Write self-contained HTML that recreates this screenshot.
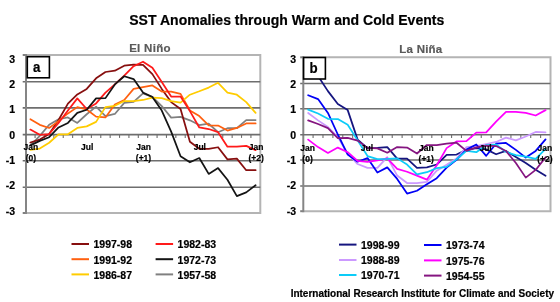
<!DOCTYPE html>
<html><head><meta charset="utf-8"><style>
html,body{margin:0;padding:0;background:#fff;width:560px;height:302px;overflow:hidden}
svg{display:block;will-change:transform}
text{font-family:"Liberation Sans",sans-serif;font-weight:bold;fill:#000;stroke:#000;stroke-width:0.2}
.title{font-size:14px;letter-spacing:0.025px}
.sub{font-size:11.5px;fill:#5a5a5a;stroke:#5a5a5a;letter-spacing:0.3px}
.yl{font-size:10.5px}
.xl{font-size:8.5px}
.lg{font-size:10.5px}
.foot{font-size:10px}
.box{font-size:14.5px}
</style></head><body>
<svg width="560" height="302" viewBox="0 0 560 302">
<rect width="560" height="302" fill="#fff"/>
<g>
<polyline points="25.7,55.0 260.3,55.0 260.3,213.0 25.7,213.0" fill="none" stroke="#b4b4b4" stroke-width="2"/>
<line x1="22.7" y1="81.80" x2="260.3" y2="81.80" stroke="#6e6e6e" stroke-width="1.6"/>
<line x1="22.7" y1="107.90" x2="260.3" y2="107.90" stroke="#6e6e6e" stroke-width="1.6"/>
<line x1="22.7" y1="160.75" x2="260.3" y2="160.75" stroke="#6e6e6e" stroke-width="1.6"/>
<line x1="22.7" y1="187.30" x2="260.3" y2="187.30" stroke="#6e6e6e" stroke-width="1.6"/>
<line x1="22.7" y1="55.0" x2="25.7" y2="55.0" stroke="#808080" stroke-width="2"/>
<line x1="22.7" y1="213.0" x2="25.7" y2="213.0" stroke="#808080" stroke-width="2"/>
<line x1="26.0" y1="54.0" x2="26.0" y2="214.0" stroke="#858585" stroke-width="2"/>
<line x1="22.7" y1="134.6" x2="260.3" y2="134.6" stroke="#6e6e6e" stroke-width="1.6"/>
<line x1="35.08" y1="134.6" x2="35.08" y2="137.9" stroke="#6e6e6e" stroke-width="1.1"/>
<line x1="44.47" y1="134.6" x2="44.47" y2="137.9" stroke="#6e6e6e" stroke-width="1.1"/>
<line x1="53.85" y1="134.6" x2="53.85" y2="137.9" stroke="#6e6e6e" stroke-width="1.1"/>
<line x1="63.24" y1="134.6" x2="63.24" y2="137.9" stroke="#6e6e6e" stroke-width="1.1"/>
<line x1="72.62" y1="134.6" x2="72.62" y2="137.9" stroke="#6e6e6e" stroke-width="1.1"/>
<line x1="82.00" y1="134.6" x2="82.00" y2="137.9" stroke="#6e6e6e" stroke-width="1.1"/>
<line x1="91.39" y1="134.6" x2="91.39" y2="137.9" stroke="#6e6e6e" stroke-width="1.1"/>
<line x1="100.77" y1="134.6" x2="100.77" y2="137.9" stroke="#6e6e6e" stroke-width="1.1"/>
<line x1="110.16" y1="134.6" x2="110.16" y2="137.9" stroke="#6e6e6e" stroke-width="1.1"/>
<line x1="119.54" y1="134.6" x2="119.54" y2="137.9" stroke="#6e6e6e" stroke-width="1.1"/>
<line x1="128.92" y1="134.6" x2="128.92" y2="137.9" stroke="#6e6e6e" stroke-width="1.1"/>
<line x1="138.31" y1="134.6" x2="138.31" y2="137.9" stroke="#6e6e6e" stroke-width="1.1"/>
<line x1="147.69" y1="134.6" x2="147.69" y2="137.9" stroke="#6e6e6e" stroke-width="1.1"/>
<line x1="157.08" y1="134.6" x2="157.08" y2="137.9" stroke="#6e6e6e" stroke-width="1.1"/>
<line x1="166.46" y1="134.6" x2="166.46" y2="137.9" stroke="#6e6e6e" stroke-width="1.1"/>
<line x1="175.84" y1="134.6" x2="175.84" y2="137.9" stroke="#6e6e6e" stroke-width="1.1"/>
<line x1="185.23" y1="134.6" x2="185.23" y2="137.9" stroke="#6e6e6e" stroke-width="1.1"/>
<line x1="194.61" y1="134.6" x2="194.61" y2="137.9" stroke="#6e6e6e" stroke-width="1.1"/>
<line x1="204.00" y1="134.6" x2="204.00" y2="137.9" stroke="#6e6e6e" stroke-width="1.1"/>
<line x1="213.38" y1="134.6" x2="213.38" y2="137.9" stroke="#6e6e6e" stroke-width="1.1"/>
<line x1="222.76" y1="134.6" x2="222.76" y2="137.9" stroke="#6e6e6e" stroke-width="1.1"/>
<line x1="232.15" y1="134.6" x2="232.15" y2="137.9" stroke="#6e6e6e" stroke-width="1.1"/>
<line x1="241.53" y1="134.6" x2="241.53" y2="137.9" stroke="#6e6e6e" stroke-width="1.1"/>
<line x1="250.92" y1="134.6" x2="250.92" y2="137.9" stroke="#6e6e6e" stroke-width="1.1"/>
<polyline points="30.39,145.39 39.78,135.88 49.16,124.80 58.54,119.25 67.93,117.40 77.31,122.95 86.70,114.24 96.08,106.58 105.46,116.08 114.85,113.97 124.23,102.88 133.62,101.83 143.00,93.38 152.38,96.81 161.77,106.05 171.15,117.67 180.54,116.88 189.92,120.31 199.30,125.06 208.69,123.74 218.07,132.19 227.46,128.23 236.84,128.23 246.22,120.04 255.61,120.04" fill="none" stroke="#808080" stroke-width="1.75" stroke-linejoin="round" stroke-linecap="round"/>
<polyline points="30.39,142.48 39.78,139.58 49.16,134.04 58.54,120.04 67.93,103.68 77.31,94.44 86.70,88.89 96.08,78.33 105.46,72.00 114.85,70.68 124.23,65.66 133.62,64.60 143.00,64.87 152.38,74.11 161.77,88.89 171.15,102.09 180.54,108.96 189.92,141.69 199.30,148.82 208.69,148.82 218.07,147.24 227.46,159.38 236.84,158.59 246.22,170.20 255.61,170.20" fill="none" stroke="#870F0F" stroke-width="1.75" stroke-linejoin="round" stroke-linecap="round"/>
<polyline points="30.39,119.25 39.78,124.80 49.16,127.96 58.54,121.10 67.93,113.44 77.31,107.11 86.70,109.48 96.08,116.61 105.46,117.40 114.85,104.47 124.23,99.98 133.62,88.89 143.00,87.04 152.38,85.46 161.77,91.53 171.15,91.53 180.54,93.91 189.92,110.54 199.30,116.08 208.69,125.32 218.07,125.59 227.46,130.60 236.84,127.96 246.22,123.48 255.61,123.48" fill="none" stroke="#FF6010" stroke-width="1.75" stroke-linejoin="round" stroke-linecap="round"/>
<polyline points="30.39,149.88 39.78,148.56 49.16,142.75 58.54,134.30 67.93,134.30 77.31,127.96 86.70,126.38 96.08,121.89 105.46,107.11 114.85,105.79 124.23,101.04 133.62,101.04 143.00,99.98 152.38,97.60 161.77,98.13 171.15,101.04 180.54,102.62 189.92,94.70 199.30,91.27 208.69,87.57 218.07,82.82 227.46,92.59 236.84,94.70 246.22,102.09 255.61,112.92" fill="none" stroke="#FFCC00" stroke-width="1.75" stroke-linejoin="round" stroke-linecap="round"/>
<polyline points="30.39,129.55 39.78,134.83 49.16,134.04 58.54,122.95 67.93,110.54 77.31,98.40 86.70,108.96 96.08,103.41 105.46,92.59 114.85,84.40 124.23,75.69 133.62,66.19 143.00,61.70 152.38,67.77 161.77,82.03 171.15,96.55 180.54,96.55 189.92,111.07 199.30,127.44 208.69,129.02 218.07,132.19 227.46,146.71 236.84,146.71 246.22,145.92 255.61,150.14" fill="none" stroke="#FF1A1A" stroke-width="1.75" stroke-linejoin="round" stroke-linecap="round"/>
<polyline points="30.39,145.39 39.78,140.90 49.16,137.20 58.54,127.44 67.93,122.95 77.31,112.92 86.70,109.75 96.08,98.40 105.46,98.13 114.85,84.40 124.23,76.22 133.62,79.12 143.00,92.59 152.38,97.08 161.77,110.54 171.15,131.66 180.54,156.21 189.92,162.28 199.30,158.06 208.69,173.90 218.07,168.09 227.46,179.71 236.84,196.08 246.22,192.38 255.61,185.25" fill="none" stroke="#141414" stroke-width="1.75" stroke-linejoin="round" stroke-linecap="round"/>
<rect x="27.3" y="56.7" width="22.1" height="21.1" fill="#fff" stroke="#000" stroke-width="1.6"/>
<polyline points="303.2,57.3 550.5,57.3 550.5,211.2 303.2,211.2" fill="none" stroke="#b4b4b4" stroke-width="2"/>
<line x1="300.2" y1="83.50" x2="550.5" y2="83.50" stroke="#6e6e6e" stroke-width="1.6"/>
<line x1="300.2" y1="108.80" x2="550.5" y2="108.80" stroke="#6e6e6e" stroke-width="1.6"/>
<line x1="300.2" y1="160.00" x2="550.5" y2="160.00" stroke="#6e6e6e" stroke-width="1.6"/>
<line x1="300.2" y1="186.00" x2="550.5" y2="186.00" stroke="#6e6e6e" stroke-width="1.6"/>
<line x1="300.2" y1="57.3" x2="303.2" y2="57.3" stroke="#808080" stroke-width="2"/>
<line x1="300.2" y1="211.2" x2="303.2" y2="211.2" stroke="#808080" stroke-width="2"/>
<line x1="303.3" y1="56.3" x2="303.3" y2="212.2" stroke="#858585" stroke-width="2"/>
<line x1="300.2" y1="134.7" x2="550.5" y2="134.7" stroke="#6e6e6e" stroke-width="1.6"/>
<line x1="313.09" y1="134.7" x2="313.09" y2="138.0" stroke="#6e6e6e" stroke-width="1.1"/>
<line x1="322.98" y1="134.7" x2="322.98" y2="138.0" stroke="#6e6e6e" stroke-width="1.1"/>
<line x1="332.88" y1="134.7" x2="332.88" y2="138.0" stroke="#6e6e6e" stroke-width="1.1"/>
<line x1="342.77" y1="134.7" x2="342.77" y2="138.0" stroke="#6e6e6e" stroke-width="1.1"/>
<line x1="352.66" y1="134.7" x2="352.66" y2="138.0" stroke="#6e6e6e" stroke-width="1.1"/>
<line x1="362.55" y1="134.7" x2="362.55" y2="138.0" stroke="#6e6e6e" stroke-width="1.1"/>
<line x1="372.44" y1="134.7" x2="372.44" y2="138.0" stroke="#6e6e6e" stroke-width="1.1"/>
<line x1="382.34" y1="134.7" x2="382.34" y2="138.0" stroke="#6e6e6e" stroke-width="1.1"/>
<line x1="392.23" y1="134.7" x2="392.23" y2="138.0" stroke="#6e6e6e" stroke-width="1.1"/>
<line x1="402.12" y1="134.7" x2="402.12" y2="138.0" stroke="#6e6e6e" stroke-width="1.1"/>
<line x1="412.01" y1="134.7" x2="412.01" y2="138.0" stroke="#6e6e6e" stroke-width="1.1"/>
<line x1="421.90" y1="134.7" x2="421.90" y2="138.0" stroke="#6e6e6e" stroke-width="1.1"/>
<line x1="431.80" y1="134.7" x2="431.80" y2="138.0" stroke="#6e6e6e" stroke-width="1.1"/>
<line x1="441.69" y1="134.7" x2="441.69" y2="138.0" stroke="#6e6e6e" stroke-width="1.1"/>
<line x1="451.58" y1="134.7" x2="451.58" y2="138.0" stroke="#6e6e6e" stroke-width="1.1"/>
<line x1="461.47" y1="134.7" x2="461.47" y2="138.0" stroke="#6e6e6e" stroke-width="1.1"/>
<line x1="471.36" y1="134.7" x2="471.36" y2="138.0" stroke="#6e6e6e" stroke-width="1.1"/>
<line x1="481.26" y1="134.7" x2="481.26" y2="138.0" stroke="#6e6e6e" stroke-width="1.1"/>
<line x1="491.15" y1="134.7" x2="491.15" y2="138.0" stroke="#6e6e6e" stroke-width="1.1"/>
<line x1="501.04" y1="134.7" x2="501.04" y2="138.0" stroke="#6e6e6e" stroke-width="1.1"/>
<line x1="510.93" y1="134.7" x2="510.93" y2="138.0" stroke="#6e6e6e" stroke-width="1.1"/>
<line x1="520.82" y1="134.7" x2="520.82" y2="138.0" stroke="#6e6e6e" stroke-width="1.1"/>
<line x1="530.72" y1="134.7" x2="530.72" y2="138.0" stroke="#6e6e6e" stroke-width="1.1"/>
<line x1="540.61" y1="134.7" x2="540.61" y2="138.0" stroke="#6e6e6e" stroke-width="1.1"/>
<polyline points="308.15,72.89 318.04,75.97 327.93,91.12 337.82,103.95 347.71,110.11 357.61,139.63 367.50,148.11 377.39,147.85 387.28,147.08 397.17,158.63 407.07,158.63 416.96,167.87 426.85,167.36 436.74,164.53 446.63,154.78 456.53,154.52 466.42,149.90 476.31,148.11 486.20,149.39 496.09,154.27 505.99,150.93 515.88,157.09 525.77,162.99 535.66,169.67 545.55,175.83" fill="none" stroke="#15157F" stroke-width="1.75" stroke-linejoin="round" stroke-linecap="round"/>
<polyline points="308.15,112.94 318.04,120.38 327.93,127.06 337.82,137.07 347.71,153.75 357.61,164.02 367.50,167.87 377.39,167.87 387.28,157.09 397.17,175.57 407.07,183.02 416.96,183.02 426.85,181.99 436.74,170.69 446.63,164.79 456.53,158.37 466.42,147.08 476.31,146.05 486.20,144.00 496.09,141.94 505.99,137.58 515.88,140.40 525.77,136.55 535.66,131.93 545.55,132.45" fill="none" stroke="#CC99FF" stroke-width="1.75" stroke-linejoin="round" stroke-linecap="round"/>
<polyline points="308.15,95.22 318.04,99.08 327.93,112.94 337.82,134.50 347.71,154.52 357.61,161.71 367.50,158.12 377.39,172.49 387.28,167.36 397.17,178.91 407.07,193.54 416.96,190.72 426.85,184.30 436.74,178.14 446.63,167.61 456.53,159.91 466.42,149.65 476.31,144.51 486.20,155.81 496.09,143.74 505.99,142.97 515.88,149.90 525.77,157.60 535.66,150.93 545.55,139.38" fill="none" stroke="#0000F5" stroke-width="1.75" stroke-linejoin="round" stroke-linecap="round"/>
<polyline points="308.15,139.63 318.04,147.08 327.93,152.98 337.82,147.59 347.71,152.21 357.61,160.94 367.50,161.97 377.39,160.43 387.28,158.37 397.17,168.90 407.07,171.72 416.96,175.57 426.85,179.68 436.74,165.30 446.63,148.11 456.53,141.43 466.42,141.17 476.31,132.70 486.20,132.45 496.09,121.66 505.99,111.91 515.88,111.91 525.77,112.94 535.66,115.50 545.55,110.11" fill="none" stroke="#FF00FF" stroke-width="1.75" stroke-linejoin="round" stroke-linecap="round"/>
<polyline points="308.15,109.60 318.04,113.45 327.93,118.84 337.82,119.10 347.71,124.75 357.61,140.40 367.50,156.06 377.39,159.14 387.28,158.89 397.17,158.37 407.07,164.53 416.96,174.29 426.85,172.23 436.74,168.13 446.63,166.84 456.53,159.40 466.42,150.93 476.31,152.21 486.20,145.02 496.09,144.51 505.99,151.96 515.88,155.04 525.77,156.58 535.66,158.89 545.55,148.88" fill="none" stroke="#0CCCF8" stroke-width="1.75" stroke-linejoin="round" stroke-linecap="round"/>
<polyline points="308.15,120.38 318.04,123.98 327.93,128.08 337.82,138.09 347.71,137.84 357.61,140.66 367.50,147.85 377.39,148.36 387.28,152.73 397.17,147.08 407.07,147.59 416.96,153.50 426.85,145.02 436.74,145.02 446.63,143.74 456.53,142.71 466.42,150.93 476.31,147.34 486.20,145.54 496.09,146.05 505.99,150.93 515.88,162.99 525.77,177.63 535.66,169.92 545.55,157.35" fill="none" stroke="#851580" stroke-width="1.75" stroke-linejoin="round" stroke-linecap="round"/>
<rect x="303.6" y="57.5" width="21.8" height="21.5" fill="#fff" stroke="#000" stroke-width="1.6"/>
<line x1="71.5" y1="244" x2="89.0" y2="244" stroke="#870F0F" stroke-width="2"/>
<line x1="155.6" y1="244" x2="173.1" y2="244" stroke="#FF1A1A" stroke-width="2"/>
<line x1="71.5" y1="259.2" x2="89.0" y2="259.2" stroke="#FF6010" stroke-width="2"/>
<line x1="155.6" y1="259.2" x2="173.1" y2="259.2" stroke="#141414" stroke-width="2"/>
<line x1="71.5" y1="274.4" x2="89.0" y2="274.4" stroke="#FFCC00" stroke-width="2"/>
<line x1="155.6" y1="274.4" x2="173.1" y2="274.4" stroke="#808080" stroke-width="2"/>
<line x1="339" y1="244.6" x2="356.5" y2="244.6" stroke="#15157F" stroke-width="2"/>
<line x1="424" y1="245" x2="441.5" y2="245" stroke="#0000F5" stroke-width="2"/>
<line x1="339" y1="260" x2="356.5" y2="260" stroke="#CC99FF" stroke-width="2"/>
<line x1="424" y1="260.4" x2="441.5" y2="260.4" stroke="#FF00FF" stroke-width="2"/>
<line x1="339" y1="275" x2="356.5" y2="275" stroke="#0CCCF8" stroke-width="2"/>
<line x1="424" y1="275.6" x2="441.5" y2="275.6" stroke="#851580" stroke-width="2"/>
</g>
<text x="286.75" y="25" text-anchor="middle" class="title">SST Anomalies through Warm and Cold Events</text>
<text x="150.0" y="51.5" text-anchor="middle" class="sub">El Niño</text>
<text x="420.9" y="52.5" text-anchor="middle" class="sub" style="letter-spacing:0.22px">La Niña</text>
<text x="15.2" y="63" text-anchor="end" class="yl">3</text>
<text x="15.2" y="88" text-anchor="end" class="yl">2</text>
<text x="15.2" y="113" text-anchor="end" class="yl">1</text>
<text x="15.2" y="139" text-anchor="end" class="yl">0</text>
<text x="15.2" y="164" text-anchor="end" class="yl">-1</text>
<text x="15.2" y="189" text-anchor="end" class="yl">-2</text>
<text x="15.2" y="215" text-anchor="end" class="yl">-3</text>
<text x="30.89" y="149.6" text-anchor="middle" class="xl">Jan</text>
<text x="30.89" y="160.8" text-anchor="middle" class="xl">(0)</text>
<text x="87.20" y="149.6" text-anchor="middle" class="xl">Jul</text>
<text x="143.50" y="149.6" text-anchor="middle" class="xl">Jan</text>
<text x="143.50" y="160.8" text-anchor="middle" class="xl">(+1)</text>
<text x="199.80" y="149.6" text-anchor="middle" class="xl">Jul</text>
<text x="256.11" y="149.6" text-anchor="middle" class="xl">Jan</text>
<text x="256.11" y="160.8" text-anchor="middle" class="xl">(+2)</text>
<text transform="translate(36.8,72.2) scale(0.92,1)" x="0" y="0" text-anchor="middle" class="box">a</text>
<text x="296.2" y="63" text-anchor="end" class="yl">3</text>
<text x="296.2" y="88" text-anchor="end" class="yl">2</text>
<text x="296.2" y="113" text-anchor="end" class="yl">1</text>
<text x="296.2" y="139" text-anchor="end" class="yl">0</text>
<text x="296.2" y="164" text-anchor="end" class="yl">-1</text>
<text x="296.2" y="189" text-anchor="end" class="yl">-2</text>
<text x="296.2" y="215" text-anchor="end" class="yl">-3</text>
<text x="307.55" y="150.6" text-anchor="middle" class="xl">Jan</text>
<text x="307.55" y="161.8" text-anchor="middle" class="xl">(0)</text>
<text x="366.90" y="150.6" text-anchor="middle" class="xl">Jul</text>
<text x="426.25" y="150.6" text-anchor="middle" class="xl">Jan</text>
<text x="426.25" y="161.8" text-anchor="middle" class="xl">(+1)</text>
<text x="485.60" y="150.6" text-anchor="middle" class="xl">Jul</text>
<text x="544.95" y="150.6" text-anchor="middle" class="xl">Jan</text>
<text x="544.95" y="161.8" text-anchor="middle" class="xl">(+2)</text>
<text transform="translate(313.6,73.0) scale(0.92,1)" x="0" y="0" text-anchor="middle" class="box">b</text>
<text x="93.5" y="248.3" class="lg">1997-98</text>
<text x="177.6" y="248.3" class="lg">1982-83</text>
<text x="93.5" y="263.5" class="lg">1991-92</text>
<text x="177.6" y="263.5" class="lg">1972-73</text>
<text x="93.5" y="278.7" class="lg">1986-87</text>
<text x="177.6" y="278.7" class="lg">1957-58</text>
<text x="361" y="248.9" class="lg">1998-99</text>
<text x="446" y="249.3" class="lg">1973-74</text>
<text x="361" y="264.3" class="lg">1988-89</text>
<text x="446" y="264.7" class="lg">1975-76</text>
<text x="361" y="279.3" class="lg">1970-71</text>
<text x="446" y="279.90000000000003" class="lg">1954-55</text>
<text x="422.35" y="296.5" text-anchor="middle" class="foot">International Research Institute for Climate and Society</text>
</svg>
</body></html>
